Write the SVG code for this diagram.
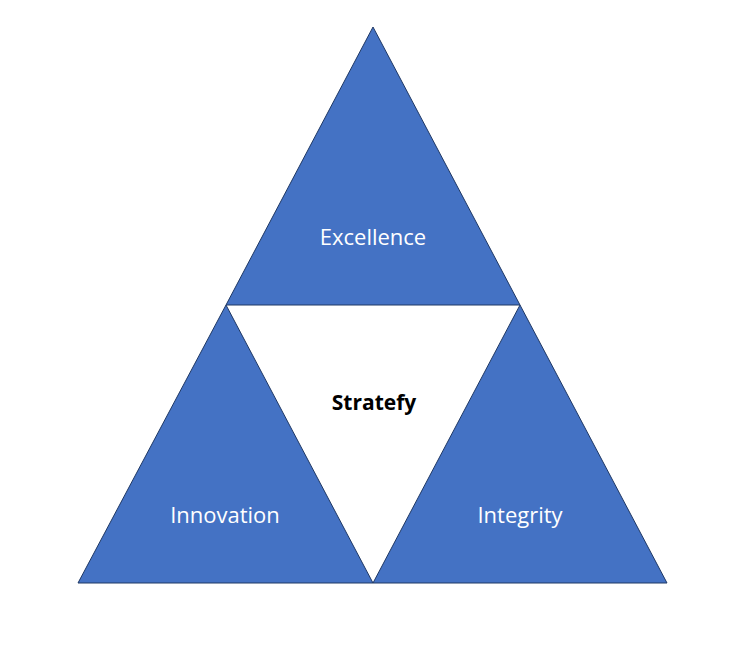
<svg xmlns="http://www.w3.org/2000/svg" width="747" height="667" viewBox="0 0 747 667">
<style>
.tri{fill:#4472C4;stroke:#1F3864;stroke-width:1;stroke-linejoin:miter}
.lbl{font-family:"Open Sans","Liberation Sans",sans-serif;font-size:22px;fill:#FFFFFF;text-anchor:middle}
.ctr{font-family:"Open Sans","Liberation Sans",sans-serif;font-size:21px;font-weight:bold;fill:#000000;text-anchor:middle}
</style>
<rect width="747" height="667" fill="#FFFFFF"/>
<g id="excellence">
<polygon class="tri" points="373,27 520,305 226,305"/>
<text class="lbl" x="373" y="245">Excellence</text>
</g>
<g id="innovation">
<polygon class="tri" points="226,305 373,583 78,583"/>
<text class="lbl" x="225" y="523">Innovation</text>
</g>
<g id="integrity">
<polygon class="tri" points="520,305 667,583 373,583"/>
<text class="lbl" x="520" y="523">Integrity</text>
</g>
<g id="stratefy">
<text class="ctr" x="374" y="410">Stratefy</text>
</g>
<g id="connectors"></g>
</svg>
